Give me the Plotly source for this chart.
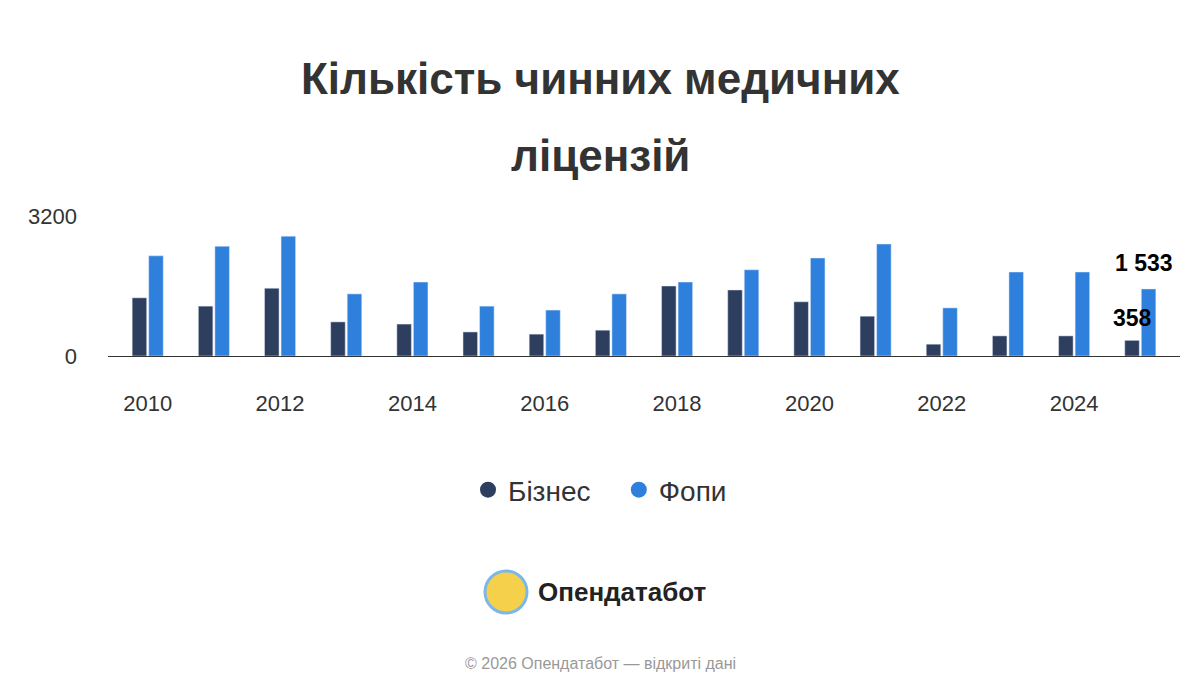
import plotly.graph_objects as go

years = list(range(2010, 2026))
biznes = [1330, 1140, 1550, 780, 730, 550, 500, 590, 1600, 1510, 1240, 910, 270, 460, 460, 358]
fopy = [2290, 2510, 2740, 1420, 1690, 1140, 1050, 1420, 1690, 1970, 2240, 2560, 1100, 1920, 1920, 1533]

dark = "#2d3e5f"
blue = "#2f80dd"

fig = go.Figure()
fig.add_bar(x=years, y=biznes, marker_color=dark, showlegend=False, name="Бізнес")
fig.add_bar(x=years, y=fopy, marker_color=blue, showlegend=False, name="Фопи")
# legend entries with round markers
fig.add_scatter(x=[None], y=[None], mode="markers", name="Бізнес   ",
                marker=dict(color=dark, size=30))
fig.add_scatter(x=[None], y=[None], mode="markers", name="Фопи",
                marker=dict(color=blue, size=30))

# value labels on the last year
fig.add_annotation(x=years[-1], y=biznes[-1], text="<b>" + str(biznes[-1]) + "</b>",
                   xshift=-8, yshift=22, showarrow=False, font=dict(size=23, color="black"))
fig.add_annotation(x=years[-1], y=fopy[-1], text="<b>1 533</b>",
                   xshift=4, yshift=26, showarrow=False, font=dict(size=23, color="black"))

# plot area in page pixels (page has 8px body offset)
L, R, T, B = 100, 1172, 208, 348

def px(x):
    return (x - 8 - L) / (R - L)

def py(y):
    return (B - (y - 8)) / (B - T)

fig.update_layout(
    width=1200, height=700,
    paper_bgcolor="white", plot_bgcolor="white",
    font=dict(family="Liberation Sans, Arial", color="#333"),
    margin=dict(l=L, r=1200 - R, t=T, b=700 - B),
    barmode="group", bargap=0.5, bargroupgap=0.12,
    legend=dict(orientation="h", x=px(600), xanchor="center", y=py(490), yanchor="middle",
                font=dict(size=28, color="#333")),
    xaxis=dict(tickmode="linear", tick0=2010, dtick=2, showgrid=False,
               showline=True, linecolor="#333", linewidth=1,
               tickfont=dict(size=22), ticklabelstandoff=28, range=[2009.4, 2025.6]),
    yaxis=dict(range=[0, 3200], tickvals=[0, 3200], showgrid=True, gridcolor="#ddd",
               zeroline=False, tickfont=dict(size=22), ticklabelstandoff=30),
)

for txt, yy in [("<b>Кількість чинних медичних</b>", 78), ("<b>ліцензій</b>", 155)]:
    fig.add_annotation(xref="paper", yref="paper", x=px(600), y=py(yy), xanchor="center",
                       yanchor="middle", showarrow=False, text=txt,
                       font=dict(size=44, color="#333"))

# logo and footer
fig.add_shape(type="circle", xref="paper", yref="paper",
              x0=px(485), x1=px(527), y0=py(613), y1=py(571),
              fillcolor="#f5d04a", line=dict(color="#7bb8ea", width=3))
fig.add_annotation(xref="paper", yref="paper", x=px(536), y=py(592),
                   xanchor="left", yanchor="middle", showarrow=False,
                   text="<b>Опендатабот</b>", font=dict(size=26, color="#222"))
fig.add_annotation(xref="paper", yref="paper", x=px(600), y=py(663),
                   xanchor="center", yanchor="middle", showarrow=False,
                   text="© 2026 Опендатабот — відкриті дані", font=dict(size=16, color="#999"))

fig.write_html("out.html")
